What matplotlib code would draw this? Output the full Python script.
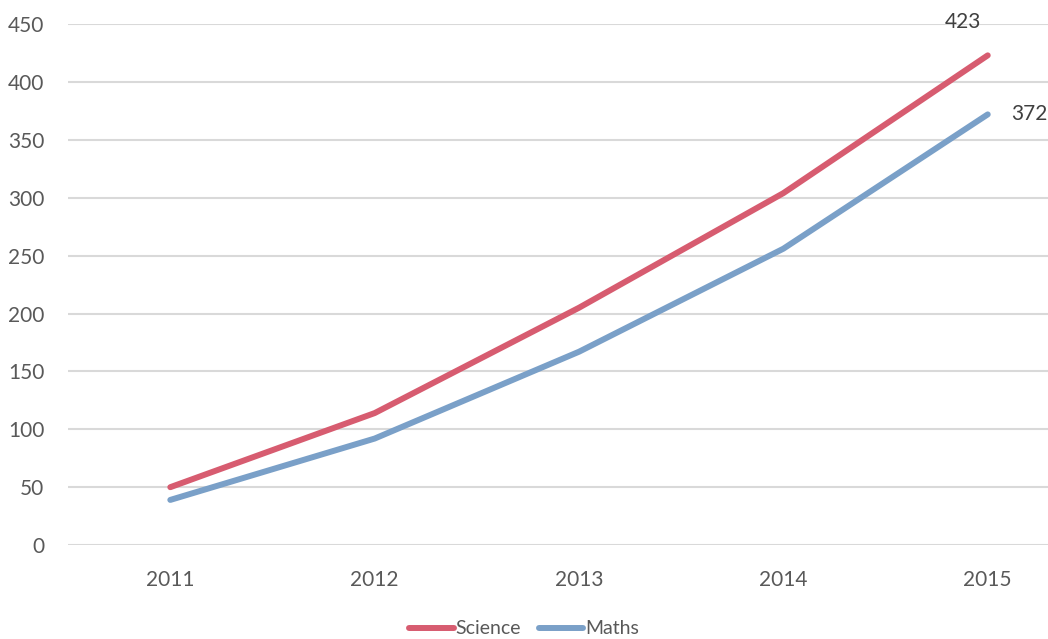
import matplotlib
matplotlib.use("Agg")
import matplotlib.pyplot as plt
import numpy as np

years = ["2011", "2012", "2013", "2014", "2015"]
science = [50, 114, 205, 304, 423]
maths = [39, 92, 167, 256, 372]
y_ticks = [0, 50, 100, 150, 200, 250, 300, 350, 400, 450]

red = "#d75c70"
blue = "#7aa0c8"
grey = "#595959"

plt.rcParams["font.family"] = ["Lato", "DejaVu Sans"]

fig = plt.figure(figsize=(10.48, 6.39), dpi=100)
ax = fig.add_axes([0.065, 0.147, 0.975, 0.8153])

x = np.arange(len(years))
ax.plot(x, science, color=red, lw=4.3, solid_capstyle="round", label="Science")
ax.plot(x, maths, color=blue, lw=4.3, solid_capstyle="round", label="Maths")

# data labels on the last point
ax.annotate(str(science[-1]), (x[-1], science[-1]), xytext=(-18, 17),
            textcoords="offset points", ha="center", va="bottom",
            fontsize=15, color="#404040")
ax.annotate(str(maths[-1]), (x[-1], maths[-1]), xytext=(17, 0),
            textcoords="offset points", ha="left", va="center",
            fontsize=15, color="#404040")

ax.set_xlim(-0.5, 4.5)
ax.set_ylim(0, 450)
ax.set_xticks(x)
ax.set_xticklabels(years)
ax.set_yticks(y_ticks)
ax.yaxis.grid(True, color="#d9d9d9", lw=1.5)
ax.set_axisbelow(True)
for s in ax.spines.values():
    s.set_visible(False)
ax.tick_params(length=0, labelsize=15, colors=grey)
ax.tick_params(axis="y", pad=17)
ax.tick_params(axis="x", pad=18)

fig.legend(loc="center", bbox_to_anchor=(524 / 1048, 1 - 629 / 639),
           ncol=2, frameon=False, fontsize=14, labelcolor=grey,
           handlelength=2.3, handletextpad=0.1, columnspacing=0.9)

fig.savefig("out.png", dpi=100)
